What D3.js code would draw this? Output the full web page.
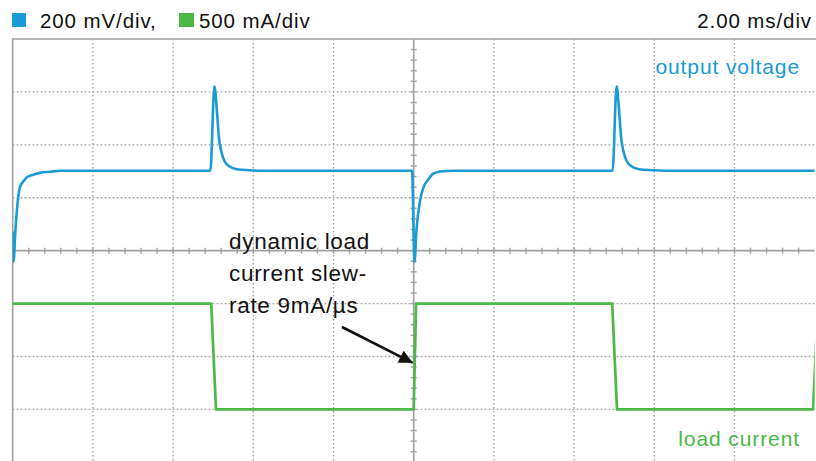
<!DOCTYPE html>
<html>
<head>
<meta charset="utf-8">
<script src="https://cdn.jsdelivr.net/npm/d3@7/dist/d3.min.js"></script>
<style>
  html, body { margin: 0; padding: 0; background: #fff; }
  svg { display: block; }
  text { font-family: "Liberation Sans", Arial, Helvetica, sans-serif; }
</style>
</head>
<body>
<svg id="scope" width="816" height="461"></svg>
<script>
// Channel settings shown in the header
const scaleLabels = ["200 mV/div,", "500 mA/div", "2.00 ms/div"];
const traceNames = ["output voltage", "load current"];
const noteLines = ["dynamic load", "current slew-", "rate 9mA/\u00B5s"];

// Output voltage: deviation (mV) from the regulated level vs time (ms)
const voltTime = [0.00, 0.02, 0.07, 0.13, 0.18, 0.26, 0.36, 0.51, 0.68, 0.93, 1.20,
                  4.93, 5.03, 5.09, 5.14, 5.21, 5.29, 5.42, 5.59, 5.90, 6.20,
                  9.96, 10.02, 10.07, 10.16, 10.23, 10.36, 10.48, 10.66, 11.00,
                  14.96, 15.06, 15.12, 15.17, 15.24, 15.32, 15.45, 15.62, 15.95, 16.25, 20.00];
const voltDev  = [-230, -344, -220, -110, -62, -42, -24, -15, -8, -4, 0,
                  0, 319, 231, 129, 68, 34, 15, 6, 2, 0,
                  0, -344, -222, -112, -68, -34, -12, -3, 0,
                  0, 319, 231, 129, 68, 34, 15, 6, 2, 0, 0];

// Load current (A) vs time (ms)
const currTime = [0.00, 4.95, 5.07, 10.00, 10.06, 14.95, 15.07, 19.96, 20.08];
const currAmps = [1.0, 1.0, 0.0, 0.0, 1.0, 1.0, 0.0, 0.0, 1.0];

// Screen geometry: 10 x 8 divisions
const DIV_X = 10, DIV_Y = 8;
const plot = { left: 12.7, top: 39, width: 802, height: 423.3 };
const mvPerDiv = 200, ampPerDiv = 0.5, msPerDiv = 2;
const voltOffsetDiv = 1.51;   // regulated level position on screen (div)
const currZeroDiv = -3;       // current zero position on screen (div)

const blue = "#1a9ad6", green = "#4cb848", gridCol = "#9c9c9c";

const svg = d3.select("#scope");

const x = d3.scaleLinear().domain([0, DIV_X * msPerDiv])
  .range([plot.left, plot.left + plot.width]);
const yDiv = d3.scaleLinear().domain([-DIV_Y / 2, DIV_Y / 2])
  .range([plot.top + plot.height, plot.top]);
const yVolt = d3.scaleLinear()
  .domain([(-DIV_Y / 2 - voltOffsetDiv) * mvPerDiv, (DIV_Y / 2 - voltOffsetDiv) * mvPerDiv])
  .range(yDiv.range());
const yCurr = d3.scaleLinear()
  .domain([(-DIV_Y / 2 - currZeroDiv) * ampPerDiv, (DIV_Y / 2 - currZeroDiv) * ampPerDiv])
  .range(yDiv.range());

svg.append("defs").append("clipPath").attr("id", "screen")
  .append("rect")
  .attr("x", plot.left).attr("y", plot.top)
  .attr("width", plot.width).attr("height", plot.height);

// Dotted graticule
const grid = svg.append("g");
const xDivs = d3.range(1, DIV_X).filter(i => i !== DIV_X / 2).map(i => i * msPerDiv);
const yDivs = d3.range(-DIV_Y / 2 + 1, DIV_Y / 2).filter(d => d !== 0);
grid.selectAll("line.vx").data(xDivs).join("line")
  .attr("x1", d => x(d)).attr("x2", d => x(d))
  .attr("y1", plot.top).attr("y2", plot.top + plot.height)
  .attr("stroke", gridCol).attr("stroke-width", 1.3)
  .attr("stroke-dasharray", "1.6,2.4");
grid.selectAll("line.hy").data(yDivs).join("line")
  .attr("y1", d => yDiv(d)).attr("y2", d => yDiv(d))
  .attr("x1", plot.left).attr("x2", plot.left + plot.width)
  .attr("stroke", gridCol).attr("stroke-width", 1.3)
  .attr("stroke-dasharray", "1.6,2.4");

// Centre axes with minor ticks
const axisCol = "#a0a0a0";
const xc = x(DIV_X / 2 * msPerDiv), yc = yDiv(0);
grid.append("line").attr("x1", plot.left).attr("x2", plot.left + plot.width)
  .attr("y1", yc).attr("y2", yc).attr("stroke", axisCol).attr("stroke-width", 1.6);
grid.append("line").attr("x1", xc).attr("x2", xc)
  .attr("y1", plot.top).attr("y2", plot.top + plot.height)
  .attr("stroke", axisCol).attr("stroke-width", 1.6);
const minorX = d3.range(1, DIV_X * 5).map(i => i * msPerDiv / 5);
const minorY = d3.range(-DIV_Y / 2 * 5 + 1, DIV_Y / 2 * 5).map(i => i / 5);
grid.selectAll("line.mx").data(minorX).join("line")
  .attr("x1", d => x(d)).attr("x2", d => x(d))
  .attr("y1", yc - 3).attr("y2", yc + 3)
  .attr("stroke", axisCol).attr("stroke-width", 1.4);
grid.selectAll("line.my").data(minorY).join("line")
  .attr("y1", d => yDiv(d)).attr("y2", d => yDiv(d))
  .attr("x1", xc - 3).attr("x2", xc + 3)
  .attr("stroke", axisCol).attr("stroke-width", 1.4);

// Screen frame (top and left edges)
grid.append("path")
  .attr("d", `M${plot.left},${plot.top + plot.height}V${plot.top}H${plot.left + plot.width + 4}`)
  .attr("fill", "none").attr("stroke", axisCol).attr("stroke-width", 1.6);

// Traces
const traces = svg.append("g").attr("clip-path", "url(#screen)");
const voltLine = d3.line().x(d => x(d[0])).y(d => yVolt(d[1])).curve(d3.curveMonotoneX);
const currLine = d3.line().x(d => x(d[0])).y(d => yCurr(d[1])).curve(d3.curveLinear);

traces.append("path")
  .datum(d3.zip(currTime, currAmps))
  .attr("d", currLine)
  .attr("fill", "none").attr("stroke", green).attr("stroke-width", 2.7)
  .attr("stroke-linejoin", "round");
traces.append("path")
  .datum(d3.zip(voltTime, voltDev))
  .attr("d", voltLine)
  .attr("fill", "none").attr("stroke", blue).attr("stroke-width", 2.6)
  .attr("stroke-linejoin", "round");

// Header
const hdr = svg.append("g").attr("font-size", 20.5).attr("letter-spacing", 0.9).attr("fill", "#111");
hdr.append("rect").attr("x", 12).attr("y", 13).attr("width", 14).attr("height", 14).attr("fill", blue);
hdr.append("text").attr("x", 40).attr("y", 28).text(scaleLabels[0]);
hdr.append("rect").attr("x", 179).attr("y", 13).attr("width", 15).attr("height", 14).attr("fill", green);
hdr.append("text").attr("x", 199).attr("y", 28).text(scaleLabels[1]);
hdr.append("text").attr("x", 812).attr("y", 28).attr("text-anchor", "end").text(scaleLabels[2]);

// Trace labels
svg.append("text").attr("x", 800).attr("y", 74).attr("text-anchor", "end")
  .attr("font-size", 21).attr("letter-spacing", 0.9).attr("fill", blue).text(traceNames[0]);
svg.append("text").attr("x", 800).attr("y", 446).attr("text-anchor", "end")
  .attr("font-size", 21).attr("letter-spacing", 0.9).attr("fill", green).text(traceNames[1]);

// Slew-rate annotation
const note = svg.append("text").attr("font-size", 22.5).attr("letter-spacing", 0.7).attr("fill", "#111");
note.selectAll("tspan").data(noteLines).join("tspan")
  .attr("x", 229).attr("y", (d, i) => 249 + i * 32).text(d => d);

svg.select("defs").append("marker")
  .attr("id", "head").attr("viewBox", "0 0 10 10")
  .attr("refX", 10).attr("refY", 5)
  .attr("markerWidth", 6).attr("markerHeight", 5.2)
  .attr("markerUnits", "strokeWidth").attr("orient", "auto")
  .append("path").attr("d", "M0,0L10,5L0,10Z").attr("fill", "#111");
svg.append("line")
  .attr("x1", 342).attr("y1", 327)
  .attr("x2", x(10.0) - 1).attr("y2", yCurr(0.44))
  .attr("stroke", "#111").attr("stroke-width", 2.6)
  .attr("marker-end", "url(#head)");
</script>
</body>
</html>
